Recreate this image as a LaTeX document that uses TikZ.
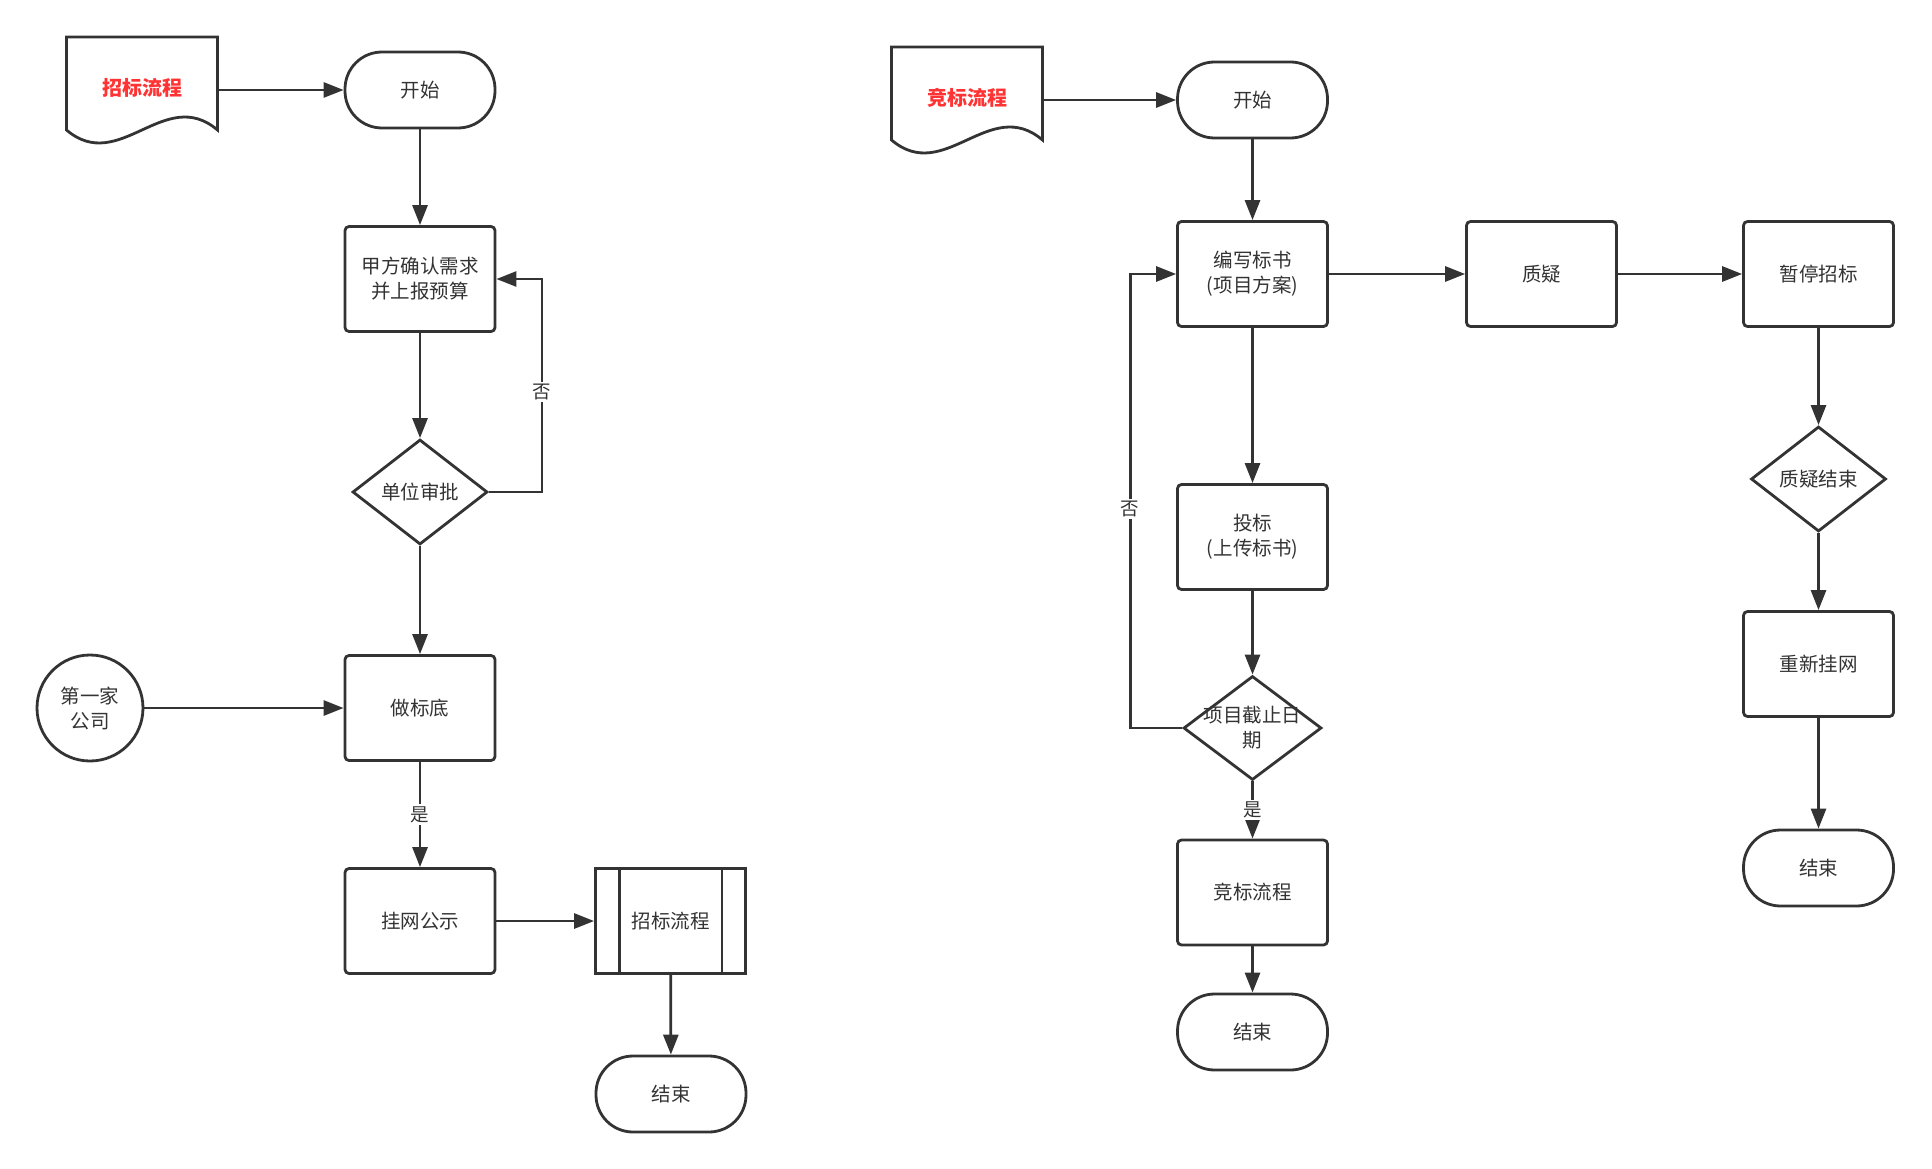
\documentclass[tikz,border=0pt]{standalone}
\usepackage{fontspec}
\setmainfont{Noto Sans CJK SC}
\usetikzlibrary{arrows.meta,shapes.geometric,calc}
\definecolor{ink}{HTML}{333333}
\definecolor{hot}{HTML}{FF3333}
\begin{document}
\begin{tikzpicture}[x=1pt,y=-1pt,
  every node/.style={font=\fontsize{19.5}{25}\selectfont, text=ink},
  ln/.style={draw=ink, line width=2.8pt},
  arr/.style={ln, -{Triangle[length=20pt,width=15pt]}},
  box/.style={ln, rectangle, rounded corners=4pt, minimum width=150pt,
    minimum height=105pt, align=center, inner sep=0pt, fill=white},
  term/.style={ln, rectangle, rounded corners=37pt, minimum width=150pt,
    minimum height=76pt, inner sep=0pt, fill=white},
  dia/.style={ln, diamond, minimum width=135pt, minimum height=105pt,
    inner sep=0pt, fill=white},
  doc/.style={rectangle, minimum width=151pt, minimum height=93pt,
    inner sep=0pt, outer sep=0pt},
  doctext/.style={font=\fontsize{20}{24}\selectfont\bfseries, text=hot},
  tag/.style={fill=white, inner sep=2pt, font=\fontsize{18.5}{22}\selectfont}]

\useasboundingbox (0,0) rectangle (1932,1169);

% ---------- bidding process (left) ----------
\node[doc] (doc1) at (142,83.5) {};
\draw[ln, fill=white] (doc1.north west) -- (doc1.north east) -- (doc1.south east)
  .. controls ($(doc1.south east)+(-0.35*151,-45)$) and ($(doc1.south west)+(0.35*151,45)$)
  .. (doc1.south west) -- cycle;
\node[doctext] (doc1t) at ($(doc1)+(0,4.5)$) {招标流程};

\node[term] (start1) at (420,90) {开始};
\node[box] (b1) at (420,279) {甲方确认需求\\并上报预算};
\node[dia] (d1) at (420,492) {};
\node (d1t) at (d1) {单位审批};
\node[box] (b2) at (420,708) {做标底};
\node[ln, circle, minimum size=106pt, inner sep=0pt, align=center, fill=white]
  (c1) at (90,708) {第一家\\公司};
\node[box] (b3) at (420,921) {挂网公示};
\node[box, rounded corners=0pt] (sp1) at (670.5,921) {招标流程};
\draw[ln] ([xshift=25pt]sp1.north west) -- ([xshift=25pt]sp1.south west);
\draw[ln] ([xshift=-25pt]sp1.north east) -- ([xshift=-25pt]sp1.south east);
\node[term] (e1) at (671,1094) {结束};

\draw[arr] (doc1.east |- start1) -- (start1);
\draw[arr] (start1) -- (b1);
\draw[arr] (b1) -- (d1);
\draw[arr] (d1.east) -- ++(53,0) |- node[tag, pos=0.235] {否} (b1.east);
\draw[arr] (d1) -- (b2);
\draw[arr] (c1) -- (b2);
\draw[arr] (b2) -- node[tag] {是} (b3);
\draw[arr] (b3) -- (sp1);
\draw[arr] (sp1) -- (e1);

% ---------- competitive bidding process (right) ----------
\node[doc] (doc2) at (967,93.5) {};
\draw[ln, fill=white] (doc2.north west) -- (doc2.north east) -- (doc2.south east)
  .. controls ($(doc2.south east)+(-0.35*151,-45)$) and ($(doc2.south west)+(0.35*151,45)$)
  .. (doc2.south west) -- cycle;
\node[doctext] (doc2t) at ($(doc2)+(0,4.5)$) {竞标流程};

\node[term] (start2) at (1252.5,100) {开始};
\node[box] (r1) at (1252.5,274) {编写标书\\(项目方案)};
\node[box] (r2) at (1541.5,274) {质疑};
\node[box] (r3) at (1818.5,274) {暂停招标};
\node[dia] (d3) at (1818.5,479) {};
\node (d3t) at (d3) {质疑结束};
\node[box] (r4) at (1818.5,664) {重新挂网};
\node[term] (e3) at (1818.5,868) {结束};
\node[box] (r5) at (1252.5,537) {投标\\(上传标书)};
\node[dia, minimum width=138pt, minimum height=104pt] (d2) at (1252.5,728) {};
\node[align=center] (d2t) at (d2) {项目截止日\\期};
\node[box] (r6) at (1252.5,892.5) {竞标流程};
\node[term] (e2) at (1252.5,1032) {结束};

\draw[arr] (doc2.east |- start2) -- (start2);
\draw[arr] (start2) -- (r1);
\draw[arr] (r1) -- (r2);
\draw[arr] (r2) -- (r3);
\draw[arr] (r3) -- (d3);
\draw[arr] (d3) -- (r4);
\draw[arr] (r4) -- (e3);
\draw[arr] (r1) -- (r5);
\draw[arr] (r5) -- (d2);
\draw[arr] (d2) -- node[tag] {是} (r6);
\draw[arr] (r6) -- (e2);
\draw[arr] (d2.west) -- ++(-52,0) |- node[tag, pos=0.241] {否} (r1.west);
\end{tikzpicture}
\end{document}
